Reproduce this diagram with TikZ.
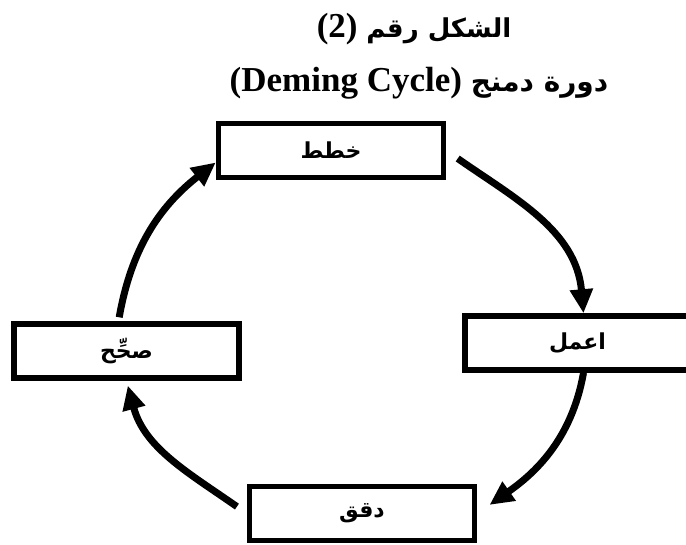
\documentclass[tikz,border=0pt]{standalone}
\usepackage{fontspec}
\setmainfont{Liberation Serif}
\newfontfamily\arabicfont[Script=Arabic]{DejaVu Sans}
\TeXXeTstate=1
\usetikzlibrary{arrows.meta, positioning}

\begin{document}
\begin{tikzpicture}[
    x=1pt, y=1pt,
    stage/.style={rectangle, draw, line width=5.5pt, fill=white, minimum width=225pt, minimum height=54pt, inner sep=0pt, font=\fontsize{22}{26}\selectfont\arabicfont\bfseries},
    heading/.style={inner sep=0pt, font=\fontsize{35}{40}\selectfont\bfseries},
    cycle/.style={-{Triangle[length=24pt, width=22pt]}, line width=7pt}
]
\useasboundingbox (0,0) rectangle (686,545);

\node[heading] (fig) at (414,516) {(2) {\fontsize{26}{30}\selectfont\arabicfont\beginR الشكل رقم\endR}};
\node[heading] (name) at (419,462) {(Deming Cycle) {\fontsize{28}{32}\selectfont\arabicfont\beginR دورة دمنج\endR}};

\node[stage] (plan) at (331,394.5) {\beginR خطط\endR};
\node[stage, below right=133pt and 16pt of plan] (do) {\beginR اعمل\endR};
\node[stage, below left=111pt and -15pt of do] (check) {\beginR دقق\endR};
\node[stage, below left=141pt and -26pt of plan] (act) {\beginR صحِّح\endR};

\draw[cycle, shorten <=14pt] (plan.east) to[out=-35, in=95] ([xshift=6pt]do.north);
\draw[cycle, shorten >=15pt] ([xshift=6pt]do.south) to[out=-100, in=35] (check.east);
\draw[cycle, shorten <=12pt, shorten >=5pt] (check.west) to[out=145, in=-75] (act.south);
\draw[cycle, shorten <=4pt] ([xshift=-8pt]act.north) to[out=80, in=218] ([yshift=-12pt]plan.west);

\end{tikzpicture}
\end{document}
